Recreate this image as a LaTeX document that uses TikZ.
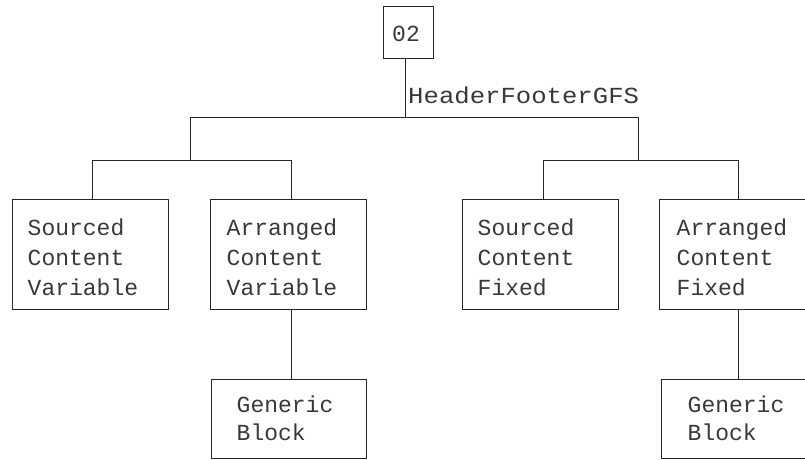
\documentclass[tikz,border=0pt]{standalone}
\usepackage{fontspec}
\newfontfamily\mono{Liberation Mono}
\usetikzlibrary{calc}
\begin{document}
\begin{tikzpicture}[x=1pt,y=-1pt,
  ln/.style={line width=1pt,draw=black!85},
  box/.style={ln,draw,inner sep=0pt,minimum width=156pt,minimum height=110pt},
  sbox/.style={ln,draw,inner sep=0pt,minimum width=155pt,minimum height=79pt},
  txt/.style={anchor=base west,inner sep=0pt,font=\mono\fontsize{23}{30}\selectfont,text=black!78}]
\useasboundingbox (0,0) rectangle (805,459);
\clip (0,0) rectangle (805,459);
% top node
\node[ln,draw,inner sep=0pt,minimum width=50pt,minimum height=52pt] (top) at (408,32) {};
\node[txt,anchor=center] (toptxt) at (406,34) {02};
\coordinate (j0) at (405,117);
\coordinate (jL) at (190,117);
\coordinate (jR) at (638,117);
\node[txt,xscale=1.115,transform shape] (hfg) at (408,103) {HeaderFooterGFS};
\draw[ln] (j0 |- top.south) -- (j0);
\draw[ln] (jL) -- (jR);
% sub bars
\coordinate (kL) at (190,160);
\coordinate (kR) at (638,160);
\coordinate (c1) at (92,160);
\coordinate (c2) at (291,160);
\coordinate (c3) at (543,160);
\coordinate (c4) at (738,160);
\draw[ln] (jL) -- (kL);
\draw[ln] (jR) -- (kR);
\draw[ln] (c1) -- (c2);
\draw[ln] (c3) -- (c4);
% boxes
\node[box] (scv) at (90,254) {};
\node[box] (acv) at (288,254) {};
\node[box] (scf) at (540,254) {};
\node[box] (acf) at (737,254) {};
\draw[ln] (c1) -- (c1 |- scv.north);
\draw[ln] (c2) -- (c2 |- acv.north);
\draw[ln] (c3) -- (c3 |- scf.north);
\draw[ln] (c4) -- (c4 |- acf.north);
\node[txt] (scv1) at ($(scv.north west)+(16,37)$) {Sourced};
\node[txt] (scv2) at ($(scv.north west)+(16,67)$) {Content};
\node[txt] (scv3) at ($(scv.north west)+(16,97)$) {Variable};
\node[txt] (acv1) at ($(acv.north west)+(17,37)$) {Arranged};
\node[txt] (acv2) at ($(acv.north west)+(17,67)$) {Content};
\node[txt] (acv3) at ($(acv.north west)+(17,97)$) {Variable};
\node[txt] (scf1) at ($(scf.north west)+(16,37)$) {Sourced};
\node[txt] (scf2) at ($(scf.north west)+(16,67)$) {Content};
\node[txt] (scf3) at ($(scf.north west)+(16,97)$) {Fixed};
\node[txt] (acf1) at ($(acf.north west)+(18,37)$) {Arranged};
\node[txt] (acf2) at ($(acf.north west)+(18,67)$) {Content};
\node[txt] (acf3) at ($(acf.north west)+(18,97)$) {Fixed};
% generic blocks
\node[sbox] (gb1) at (288.5,418.5) {};
\node[sbox] (gb2) at (738.5,418.5) {};
\draw[ln] (acv.south -| c2) -- (gb1.north -| c2);
\draw[ln] (acf.south -| c4) -- (gb2.north -| c4);
\node[txt] (gb1a) at ($(gb1.north west)+(26,34)$) {Generic};
\node[txt] (gb1b) at ($(gb1.north west)+(26,62)$) {Block};
\node[txt] (gb2a) at ($(gb2.north west)+(27,34)$) {Generic};
\node[txt] (gb2b) at ($(gb2.north west)+(27,62)$) {Block};
\end{tikzpicture}
\end{document}
